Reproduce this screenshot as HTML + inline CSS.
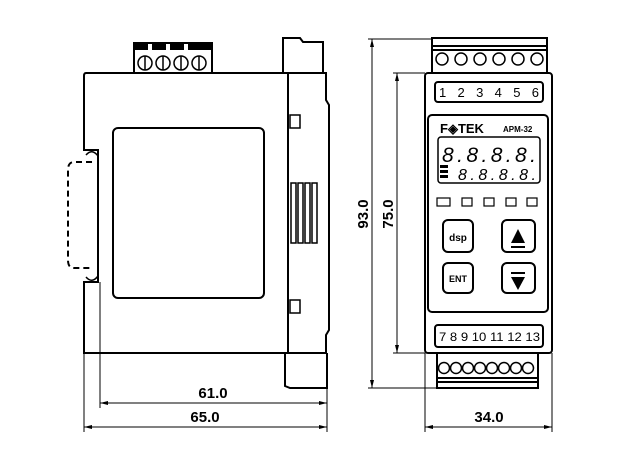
<!DOCTYPE html>
<html><head><style>body{margin:0;background:#fff}svg{display:block}text{font-family:"Liberation Sans",sans-serif;font-weight:bold}</style></head><body>
<svg width="644" height="464" viewBox="0 0 644 464" xmlns="http://www.w3.org/2000/svg">
<g fill="none" stroke="#000" stroke-width="2">
<!-- side view -->
<rect x="134" y="43" width="78" height="30" fill="#fff"/>
<g fill="#000" stroke="none"><rect x="134" y="43" width="14" height="7"/><rect x="152" y="43" width="14" height="7"/><rect x="170" y="43" width="14" height="7"/><rect x="188" y="43" width="24" height="7"/></g>
<g stroke-width="1.5"><circle cx="145" cy="63" r="7"/><circle cx="163" cy="63" r="7"/><circle cx="181" cy="63" r="7"/><circle cx="199" cy="63" r="7"/>
<line x1="145" y1="56" x2="145" y2="70"/><line x1="163" y1="56" x2="163" y2="70"/><line x1="181" y1="56" x2="181" y2="70"/><line x1="199" y1="56" x2="199" y2="70"/></g>
<path d="M283 73 V38 H300 L303 42 H323 V73"/>
<path d="M86 73 H326 V100 L329 105 V330 L326 335 V353 H84 V282 H98 V150 H84 V76 Q84 73 86 73 Z"/>
<line x1="288" y1="73" x2="288" y2="353"/>
<path d="M285 353 V386 L290 388 H327 V353"/>
<rect x="113" y="128" width="151" height="170" rx="5"/>
<rect x="290" y="115" width="10" height="13" stroke-width="1.5"/>
<rect x="290" y="300" width="10" height="13" stroke-width="1.5"/>
<g stroke-width="1.5"><rect x="291" y="183" width="5" height="60"/><rect x="298" y="183" width="5" height="60"/><rect x="305" y="183" width="5" height="60"/><rect x="312" y="183" width="5" height="60"/></g>
<path d="M98 156 Q92 148 86 155" stroke-width="1.5"/><path d="M98 276 Q92 284 86 277" stroke-width="1.5"/>
<path d="M92 162 H74 Q68 162 68 170 V260 Q68 268 74 268 H92" stroke-dasharray="6,4"/>
<!-- dims -->
<g stroke-width="1"><line x1="84" y1="353" x2="84" y2="432"/><line x1="100" y1="282" x2="100" y2="408"/><line x1="327" y1="388" x2="327" y2="432"/>
<line x1="100" y1="403" x2="327" y2="403"/><line x1="84" y1="427" x2="327" y2="427"/>
<line x1="425" y1="353" x2="425" y2="432"/><line x1="552" y1="353" x2="552" y2="432"/><line x1="425" y1="427" x2="552" y2="427"/>
<line x1="372" y1="39" x2="372" y2="388"/><line x1="368" y1="39" x2="432" y2="39"/><line x1="368" y1="388" x2="437" y2="388"/>
<line x1="397" y1="73" x2="397" y2="353"/><line x1="393" y1="73" x2="425" y2="73"/><line x1="393" y1="353" x2="425" y2="353"/></g>
</g>
<g fill="#000">
<path d="M100 403 l8 -2 v4z"/><path d="M327 403 l-8 -2 v4z"/><path d="M84 427 l8 -2 v4z"/><path d="M327 427 l-8 -2 v4z"/>
<path d="M425 427 l8 -2 v4z"/><path d="M552 427 l-8 -2 v4z"/>
<path d="M372 39 l-2 8 h4z"/><path d="M372 388 l-2 -8 h4z"/><path d="M397 73 l-2 8 h4z"/><path d="M397 353 l-2 -8 h4z"/>
</g>
<text x="213" y="398" font-size="15" text-anchor="middle">61.0</text>
<text x="205" y="422" font-size="15" text-anchor="middle">65.0</text>
<text x="489" y="422" font-size="15" text-anchor="middle">34.0</text>
<text transform="translate(368,214) rotate(-90)" font-size="15" text-anchor="middle">93.0</text>
<text transform="translate(393,214) rotate(-90)" font-size="15" text-anchor="middle">75.0</text>
<!-- front view -->
<g fill="none" stroke="#000" stroke-width="2">
<rect x="432" y="38" width="115" height="35" fill="#fff"/>
<line x1="432" y1="46" x2="547" y2="46"/><line x1="432" y1="50" x2="547" y2="50"/>
<rect x="425" y="73" width="127" height="280" rx="3"/>
<rect x="435" y="82" width="108" height="20" rx="3"/>
<rect x="428" y="115" width="120" height="197" rx="4"/>
<rect x="438" y="137" width="102" height="46" rx="3" stroke-width="1.5"/>
<rect x="443" y="220" width="30" height="32" rx="5"/><rect x="502" y="220" width="33" height="32" rx="5"/>
<rect x="443" y="263" width="30" height="30" rx="5"/><rect x="502" y="263" width="33" height="30" rx="5"/>
<rect x="435" y="325" width="108" height="22" rx="3"/>
<rect x="437" y="353" width="101" height="35" fill="#fff"/>
<line x1="437" y1="378" x2="538" y2="378"/><line x1="437" y1="382" x2="538" y2="382"/>
</g>
<g fill="#000" stroke="#000" stroke-width="1.5">
<circle cx="442" cy="59" r="6" fill="#fff"/><circle cx="461" cy="59" r="6" fill="#fff"/><circle cx="480" cy="59" r="6" fill="#fff"/><circle cx="499" cy="59" r="6" fill="#fff"/><circle cx="518" cy="59" r="6" fill="#fff"/><circle cx="537" cy="59" r="6" fill="#fff"/>
<circle cx="444" cy="368" r="5.5" fill="#fff"/><circle cx="456" cy="368" r="5.5" fill="#fff"/><circle cx="468" cy="368" r="5.5" fill="#fff"/><circle cx="480" cy="368" r="5.5" fill="#fff"/><circle cx="492" cy="368" r="5.5" fill="#fff"/><circle cx="504" cy="368" r="5.5" fill="#fff"/><circle cx="516" cy="368" r="5.5" fill="#fff"/><circle cx="528" cy="368" r="5.5" fill="#fff"/>
</g>
<text x="439" y="97" font-size="13" style="font-weight:normal" textLength="100" lengthAdjust="spacing">123456</text>
<text x="439" y="341" font-size="12" style="font-weight:normal" textLength="101" lengthAdjust="spacingAndGlyphs">7 8 9 10 11 12 13</text>
<text x="440" y="133" font-size="13">F◈TEK</text>
<text x="503" y="132" font-size="8">APM-32</text>
<text x="442" y="162" font-size="21" font-style="italic" style="font-weight:normal" textLength="94" lengthAdjust="spacing">8.8.8.8.</text>
<text x="458" y="180" font-size="16" font-style="italic" style="font-weight:normal" textLength="78" lengthAdjust="spacing">8.8.8.8.</text>
<rect x="440" y="165" width="8" height="3"/><rect x="440" y="170" width="8" height="3"/><rect x="440" y="175" width="8" height="3"/>
<g fill="none" stroke="#000" stroke-width="1.2"><rect x="437" y="198" width="13" height="8"/><rect x="462" y="198" width="10" height="8"/><rect x="484" y="198" width="10" height="8"/><rect x="506" y="198" width="10" height="8"/><rect x="527" y="198" width="10" height="8"/></g>
<text x="458" y="241" font-size="10" text-anchor="middle">dsp</text>
<text x="458" y="282" font-size="9" text-anchor="middle">ENT</text>
<path d="M511 243 L518 229 L525 243 Z M511 246 H525 V248 H511 Z"/>
<path d="M511 272 H525 V274 H511 Z M511 277 H525 L518 290 Z"/>
</svg>
</body></html>
